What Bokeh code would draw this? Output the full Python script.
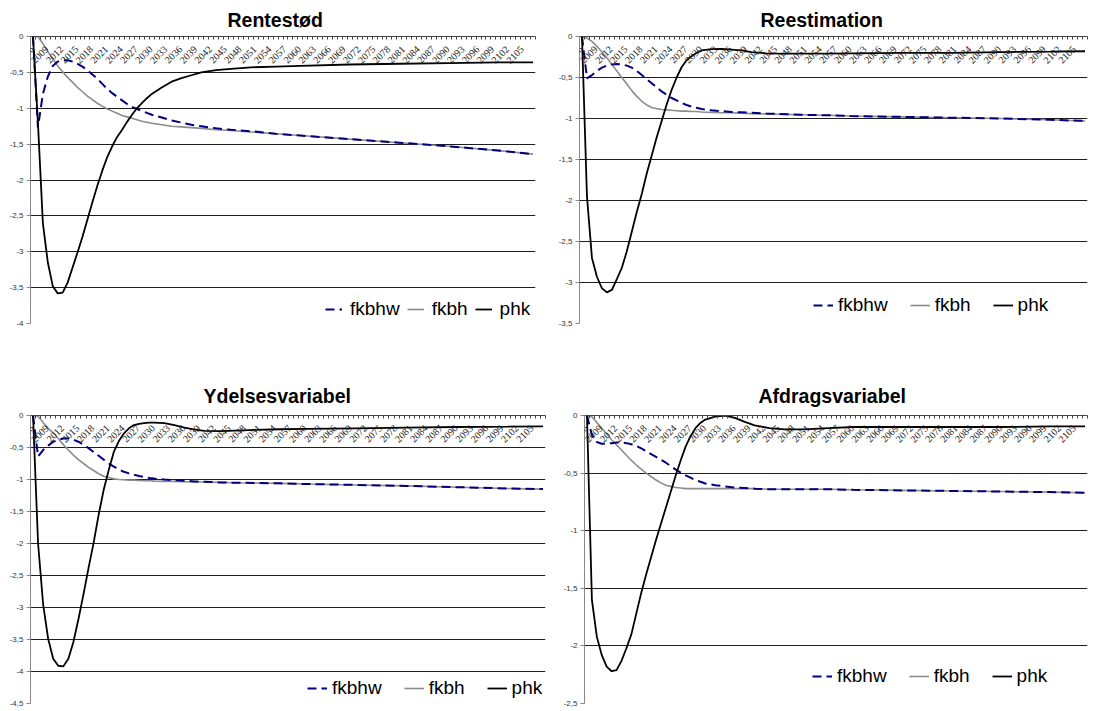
from bokeh.plotting import figure
from bokeh.models import (Range1d, FixedTicker, Legend, LegendItem, LabelSet, ColumnDataSource)
from bokeh.layouts import column, row
from bokeh.embed import file_html
from bokeh.resources import INLINE

# ---------------- data ----------------
YEARS = list(range(2006, 2031)) + [2032, 2034, 2036, 2038, 2040, 2043, 2046, 2050,
                                   2055, 2060, 2070, 2080, 2090, 2100, 2107]
CATEGORY_YEARS = list(range(2006, 2108))
LABEL_YEARS = list(range(2006, 2106, 3))

# Rentestød
rt_fkbhw = [0, -1.27, -0.80, -0.56, -0.41, -0.35, -0.33, -0.33, -0.35, -0.38, -0.42, -0.47, -0.53,
            -0.59, -0.66, -0.73, -0.79, -0.84, -0.89, -0.94, -0.98, -1.01, -1.04, -1.065, -1.09,
            -1.13, -1.17, -1.20, -1.23, -1.25, -1.28, -1.30, -1.32, -1.355, -1.38, -1.43, -1.48,
            -1.53, -1.59, -1.64]
rt_fkbh = [0, 0, -0.10, -0.21, -0.31, -0.41, -0.49, -0.57, -0.64, -0.71, -0.77, -0.83, -0.88,
           -0.93, -0.97, -1.01, -1.04, -1.07, -1.10, -1.12, -1.14, -1.16, -1.18, -1.195, -1.21,
           -1.23, -1.25, -1.26, -1.27, -1.28, -1.30, -1.31, -1.33, -1.355, -1.38, -1.43, -1.48,
           -1.53, -1.59, -1.64]
rt_phk = [0, -1.2, -2.6, -3.15, -3.48, -3.58, -3.57, -3.43, -3.22, -3.01, -2.79, -2.55, -2.31,
          -2.08, -1.87, -1.68, -1.53, -1.40, -1.30, -1.19, -1.09, -1.00, -0.93, -0.86, -0.80,
          -0.71, -0.63, -0.58, -0.54, -0.50, -0.47, -0.45, -0.43, -0.42, -0.41, -0.39, -0.38,
          -0.37, -0.36, -0.36]

# Reestimation
re_fkbhw = [0, -0.51, -0.47, -0.42, -0.38, -0.355, -0.34, -0.335, -0.34, -0.355, -0.38, -0.42,
            -0.47, -0.52, -0.57, -0.62, -0.67, -0.71, -0.75, -0.78, -0.81, -0.835, -0.855, -0.87,
            -0.885, -0.90, -0.91, -0.92, -0.925, -0.93, -0.94, -0.945, -0.955, -0.96, -0.97,
            -0.98, -0.99, -1.00, -1.015, -1.03]
re_fkbh = [0, -0.02, -0.06, -0.12, -0.19, -0.26, -0.34, -0.42, -0.50, -0.58, -0.66, -0.73, -0.79,
           -0.835, -0.865, -0.88, -0.89, -0.895, -0.90, -0.905, -0.91, -0.91, -0.915, -0.915,
           -0.92, -0.925, -0.93, -0.93, -0.935, -0.94, -0.945, -0.95, -0.955, -0.96, -0.97,
           -0.98, -0.99, -1.00, -1.015, -1.03]
re_phk = [0, -1.95, -2.7, -2.93, -3.07, -3.12, -3.09, -2.96, -2.82, -2.62, -2.38, -2.14, -1.92,
          -1.67, -1.45, -1.23, -1.03, -0.83, -0.65, -0.50, -0.375, -0.29, -0.24, -0.20, -0.17,
          -0.155, -0.15, -0.16, -0.17, -0.19, -0.205, -0.21, -0.21, -0.21, -0.205, -0.20, -0.20,
          -0.19, -0.185, -0.18]

# Ydelsesvariabel
yd_fkbhw = [0, -0.64, -0.54, -0.47, -0.41, -0.38, -0.36, -0.36, -0.38, -0.41, -0.455, -0.51,
            -0.57, -0.63, -0.69, -0.75, -0.80, -0.84, -0.88, -0.905, -0.925, -0.945, -0.96,
            -0.975, -0.985, -1.00, -1.01, -1.02, -1.03, -1.035, -1.045, -1.05, -1.055, -1.06,
            -1.07, -1.085, -1.10, -1.12, -1.14, -1.15]
yd_fkbh = [0, -0.01, -0.11, -0.20, -0.27, -0.36, -0.455, -0.54, -0.62, -0.69, -0.75, -0.81,
           -0.86, -0.91, -0.95, -0.97, -0.99, -1.00, -1.005, -1.01, -1.01, -1.015, -1.02, -1.02,
           -1.025, -1.03, -1.03, -1.035, -1.04, -1.04, -1.045, -1.05, -1.055, -1.06, -1.07,
           -1.085, -1.10, -1.12, -1.14, -1.15]
yd_phk = [0, -2.0, -2.95, -3.49, -3.80, -3.91, -3.92, -3.80, -3.54, -3.18, -2.79, -2.38, -1.99,
          -1.55, -1.16, -0.85, -0.57, -0.40, -0.28, -0.20, -0.15, -0.13, -0.12, -0.11, -0.11,
          -0.12, -0.15, -0.19, -0.22, -0.24, -0.245, -0.235, -0.225, -0.215, -0.21, -0.20,
          -0.19, -0.18, -0.175, -0.17]

# Afdragsvariabel
af_fkbhw = [0, -0.17, -0.23, -0.245, -0.245, -0.24, -0.235, -0.235, -0.24, -0.25, -0.265,
            -0.285, -0.31, -0.335, -0.36, -0.385, -0.41, -0.44, -0.47, -0.495, -0.52, -0.54,
            -0.56, -0.575, -0.59, -0.605, -0.615, -0.625, -0.63, -0.635, -0.64, -0.64, -0.64,
            -0.64, -0.645, -0.65, -0.655, -0.66, -0.665, -0.67]
af_fkbh = [0, -0.01, -0.06, -0.11, -0.16, -0.21, -0.255, -0.30, -0.345, -0.39, -0.43, -0.465,
           -0.50, -0.53, -0.56, -0.585, -0.605, -0.615, -0.625, -0.63, -0.635, -0.635, -0.635,
           -0.635, -0.635, -0.635, -0.635, -0.635, -0.635, -0.635, -0.64, -0.64, -0.64, -0.64,
           -0.645, -0.65, -0.655, -0.66, -0.665, -0.67]
af_phk = [0, -1.6, -1.92, -2.08, -2.18, -2.22, -2.21, -2.13, -2.02, -1.90, -1.72, -1.54, -1.38,
          -1.23, -1.08, -0.94, -0.80, -0.66, -0.52, -0.39, -0.27, -0.18, -0.11, -0.065, -0.035,
          -0.01, 0.0, -0.02, -0.055, -0.085, -0.11, -0.12, -0.12, -0.11, -0.10, -0.10, -0.10,
          -0.10, -0.095, -0.095]

SERIES_NAMES = ["fkbhw", "fkbh", "phk"]

FONT = "Liberation Sans"


def fmt(v):
    s = ("%g" % v).replace(".", ",")
    return "0" if s in ("-0", "0") else s


def panel(title, ymin, data, width, height, borders, leg_xy, leg_style, title_left, title_standoff):
    left, right, top, bottom = borders
    p = figure(width=width, height=height, x_range=Range1d(2005.5, 2107.5),
               y_range=Range1d(ymin, 0), x_axis_location="above",
               output_backend="svg", toolbar_location=None,
               min_border_left=left, min_border_right=right,
               min_border_top=top, min_border_bottom=bottom)
    p.title.text = title
    p.title.align = "left"
    p.title.offset = title_left
    p.title.text_font = FONT
    p.title.text_font_size = "19.5px"
    p.title.text_font_style = "bold"
    p.title.text_color = "#000000"
    p.title.standoff = title_standoff
    p.outline_line_color = None
    p.background_fill_color = "white"
    p.border_fill_color = "white"

    # top category axis (crosses at 0): tick marks only
    xa = p.xaxis[0]
    xa.ticker = FixedTicker(ticks=[],
                            minor_ticks=[y - 0.5 for y in CATEGORY_YEARS] + [CATEGORY_YEARS[-1] + 0.5])
    xa.major_label_standoff = 0
    xa.major_tick_line_color = None
    xa.minor_tick_in = 3
    xa.minor_tick_out = 0
    xa.minor_tick_line_color = "#444444"
    xa.axis_line_color = "#444444"

    # value axis
    nsteps = int(round(-ymin / 0.5))
    yt = [-0.5 * i for i in range(nsteps + 1)]
    ya = p.yaxis[0]
    ya.ticker = FixedTicker(ticks=yt)
    ya.major_label_overrides = {v: fmt(v) for v in yt}
    ya.major_label_text_font = FONT
    ya.major_label_text_font_size = "8px"
    ya.major_label_text_color = "#333333"
    ya.major_label_standoff = 3
    ya.major_tick_out = 4
    ya.major_tick_in = 0
    ya.minor_tick_line_color = None
    ya.axis_line_color = "#888888"
    ya.major_tick_line_color = "#888888"

    p.xgrid.visible = False
    p.ygrid.grid_line_color = "#1e1e1e"
    p.ygrid.grid_line_width = 1

    fkbhw, fkbh, phk = data
    r_gray = p.line(YEARS, fkbh, line_color="#8c8c8c", line_width=1.6)
    r_dash = p.line(YEARS, fkbhw, line_color="#000080", line_width=2, line_dash="9 5")
    r_blk = p.line(YEARS, phk, line_color="#000000", line_width=1.8)

    # rotated category labels just under the axis
    src = ColumnDataSource(dict(x=LABEL_YEARS, y=[0] * len(LABEL_YEARS),
                                t=[str(y) for y in LABEL_YEARS]))
    p.add_layout(LabelSet(x="x", y="y", text="t", source=src, angle=45, angle_units="deg",
                          text_align="right", text_baseline="middle", x_offset=-1, y_offset=-11,
                          text_font=FONT, text_font_size="10px", text_color="#1a1a1a"))

    glyph_w, standoff, spacing = leg_style
    leg = Legend(items=[LegendItem(label=SERIES_NAMES[0], renderers=[r_dash]),
                        LegendItem(label=SERIES_NAMES[1], renderers=[r_gray]),
                        LegendItem(label=SERIES_NAMES[2], renderers=[r_blk])],
                 orientation="horizontal", location=leg_xy,
                 label_text_font=FONT, label_text_font_size="19px", label_text_color="#000000",
                 glyph_width=glyph_w, glyph_height=20, label_standoff=standoff, spacing=spacing,
                 padding=0, margin=0, border_line_color=None, background_fill_alpha=0)
    p.add_layout(leg)
    return p


p1 = panel("Rentestød", -4, (rt_fkbhw, rt_fkbh, rt_phk), 550, 370, (30, 15, 35, 47),
           (295, 3), (17, 8, 7), 197, 12)
p2 = panel("Reestimation", -3.5, (re_fkbhw, re_fkbh, re_phk), 549, 370, (29, 12, 35, 47),
           (234, 7), (20, 5, 22), 181, 12)
p3 = panel("Ydelsesvariabel", -4.5, (yd_fkbhw, yd_fkbh, yd_phk), 550, 341, (30, 5, 45, 8),
           (277, 4), (20, 5, 22), 173, 18)
p4 = panel("Afdragsvariabel", -2.5, (af_fkbhw, af_fkbh, af_phk), 549, 341, (34, 12, 43, 6),
           (228, 16), (20, 5, 22), 174, 18)

layout = column(row(p1, p2), row(p3, p4))
open("out.html", "w").write(file_html(layout, INLINE))
